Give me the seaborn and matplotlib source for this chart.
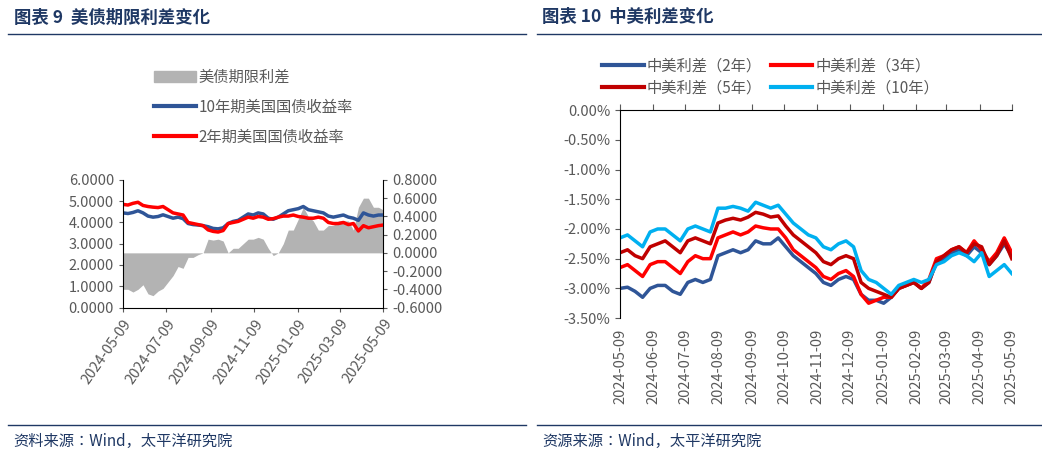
import numpy as np
import pandas as pd
import matplotlib
matplotlib.use("Agg")
import matplotlib.pyplot as plt
import matplotlib.ticker as mticker
import matplotlib.dates as mdates
from matplotlib import font_manager
from matplotlib.lines import Line2D
from matplotlib.patches import Patch
import seaborn as sb

# pick whatever CJK family is actually registered
cjk = [f.name for f in font_manager.fontManager.ttflist if "CJK" in f.name]
cjk = sorted(set(cjk), key=lambda n: ("SC" not in n, n))
plt.rcParams["font.family"] = cjk[:1] + ["DejaVu Sans"]
plt.rcParams["axes.unicode_minus"] = False

# left panel: US treasury yields (weekly, 2024-05-09 .. 2025-05-09)
us10y = [4.45, 4.42, 4.47, 4.55, 4.45, 4.30, 4.25, 4.28, 4.36, 4.28, 4.20, 4.25, 4.18,
         3.95, 3.90, 3.88, 3.85, 3.80, 3.72, 3.70, 3.75, 3.95, 4.05, 4.10, 4.25, 4.40,
         4.35, 4.45, 4.40, 4.20, 4.15, 4.25, 4.40, 4.55, 4.60, 4.65, 4.75, 4.60, 4.55,
         4.50, 4.45, 4.30, 4.25, 4.30, 4.35, 4.25, 4.20, 4.10, 4.45, 4.35, 4.30, 4.35, 4.35]
us2y = [4.85, 4.82, 4.90, 4.95, 4.80, 4.75, 4.72, 4.70, 4.75, 4.60, 4.45, 4.40, 4.35,
        4.00, 3.95, 3.90, 3.85, 3.65, 3.58, 3.55, 3.62, 3.95, 4.00, 4.05, 4.15, 4.25,
        4.20, 4.28, 4.25, 4.15, 4.18, 4.25, 4.30, 4.30, 4.35, 4.28, 4.25, 4.20, 4.20,
        4.25, 4.20, 4.00, 3.95, 3.95, 4.00, 3.90, 3.95, 3.60, 3.85, 3.75, 3.80, 3.85, 3.88]

# right panel: China-US yield spreads (%)
cn_us_2y = [-3.00, -2.98, -3.05, -3.15, -3.00, -2.95, -2.95, -3.05, -3.10, -2.90, -2.85, -2.90,
            -2.85, -2.45, -2.40, -2.35, -2.40, -2.35, -2.20, -2.25, -2.25, -2.15, -2.30, -2.45,
            -2.55, -2.65, -2.75, -2.90, -2.95, -2.85, -2.80, -2.85, -3.10, -3.20, -3.20, -3.25,
            -3.15, -3.00, -2.95, -2.90, -3.00, -2.90, -2.55, -2.50, -2.40, -2.35, -2.45, -2.30,
            -2.40, -2.60, -2.45, -2.25, -2.45]
cn_us_3y = [-2.65, -2.60, -2.70, -2.80, -2.60, -2.55, -2.55, -2.65, -2.75, -2.55, -2.45, -2.50,
            -2.50, -2.15, -2.10, -2.05, -2.10, -2.05, -1.95, -1.98, -2.00, -2.00, -2.15, -2.35,
            -2.45, -2.55, -2.65, -2.80, -2.85, -2.75, -2.70, -2.80, -3.10, -3.25, -3.20, -3.15,
            -3.15, -3.00, -2.95, -2.90, -3.00, -2.85, -2.50, -2.45, -2.35, -2.30, -2.40, -2.20,
            -2.35, -2.55, -2.40, -2.15, -2.40]
cn_us_5y = [-2.40, -2.35, -2.45, -2.50, -2.30, -2.25, -2.20, -2.30, -2.40, -2.20, -2.15, -2.20,
            -2.25, -1.90, -1.85, -1.82, -1.85, -1.80, -1.72, -1.75, -1.80, -1.78, -1.95, -2.10,
            -2.20, -2.30, -2.40, -2.55, -2.60, -2.50, -2.45, -2.50, -2.90, -3.00, -3.05, -3.10,
            -3.15, -3.00, -2.95, -2.90, -3.00, -2.90, -2.55, -2.45, -2.35, -2.30, -2.40, -2.25,
            -2.30, -2.60, -2.45, -2.20, -2.50]
cn_us_10y = [-2.15, -2.10, -2.20, -2.30, -2.05, -2.00, -2.00, -2.10, -2.20, -2.00, -1.95, -2.00,
             -2.05, -1.65, -1.65, -1.62, -1.65, -1.70, -1.55, -1.60, -1.65, -1.60, -1.75, -1.90,
             -2.00, -2.10, -2.15, -2.30, -2.35, -2.25, -2.20, -2.30, -2.70, -2.85, -2.90, -3.00,
             -3.10, -2.95, -2.90, -2.85, -2.90, -2.85, -2.60, -2.55, -2.45, -2.40, -2.45, -2.55,
             -2.40, -2.80, -2.70, -2.60, -2.75]

left_ticks = pd.to_datetime(["2024-05-09", "2024-07-09", "2024-09-09", "2024-11-09",
                             "2025-01-09", "2025-03-09", "2025-05-09"])
right_ticks = pd.date_range("2024-05-01", "2025-05-01", freq="MS") + pd.Timedelta(days=8)

BLUE, RED, GRAY = "#2F5597", "#FF0000", "#B3B3B3"
DRED, LBLUE = "#C00000", "#00B0F0"
TXT = "#595959"
TITLE = "#1F3864"

fig = plt.figure(figsize=(10.42, 4.59), dpi=100)

# headers / footers
for x0, x1, title, src in [(0.008, 0.505, "图表 9  美债期限利差变化", "资料来源：Wind，太平洋研究院"),
                           (0.515, 1.0, "图表 10  中美利差变化", "资源来源：Wind，太平洋研究院")]:
    fig.text(x0 + 0.005, 0.962, title, color=TITLE, fontsize=12.5, fontweight="bold", va="center")
    fig.text(x0 + 0.005, 0.038, src, color=TITLE, fontsize=11, va="center")
    fig.add_artist(Line2D([x0, x1], [0.925, 0.925], color=TITLE, lw=1))
    fig.add_artist(Line2D([x0, x1], [0.075, 0.075], color=TITLE, lw=1))

# ---- left chart ----
dates_l = pd.date_range("2024-05-09", "2025-05-09", periods=len(us10y))
df_l = pd.DataFrame({"date": dates_l, "y10": us10y, "y2": us2y})
df_l["spread"] = df_l["y10"] - df_l["y2"]

ax1 = fig.add_axes([0.118, 0.33, 0.25, 0.278])
ax2 = ax1.twinx()
ax2.fill_between(df_l["date"], 0, df_l["spread"], color=GRAY, lw=0)
sb.lineplot(data=df_l, x="date", y="y10", ax=ax1, color=BLUE, lw=2.5)
sb.lineplot(data=df_l, x="date", y="y2", ax=ax1, color=RED, lw=2.5)
ax1.set_zorder(2)
ax1.patch.set_visible(False)
ax1.set_ylim(0, 6)
ax2.set_ylim(-0.6, 0.8)
ax1.set_yticks(np.arange(0, 6.01, 1))
ax2.set_yticks(np.arange(-0.6, 0.81, 0.2))
ax1.yaxis.set_major_formatter(mticker.FormatStrFormatter("%.4f"))
ax2.yaxis.set_major_formatter(mticker.FormatStrFormatter("%.4f"))
ax1.set_xlim(dates_l[0], dates_l[-1])
ax1.set_xticks(left_ticks)
ax1.xaxis.set_major_formatter(mdates.DateFormatter("%Y-%m-%d"))
ax1.set_xlabel("")
ax1.set_ylabel("")
for a in (ax1, ax2):
    for s in a.spines.values():
        s.set_visible(False)
    a.tick_params(colors=TXT, labelsize=10.5, length=3)
ax1.spines["left"].set_visible(True)
ax1.spines["bottom"].set_visible(True)
ax2.spines["right"].set_visible(True)
plt.setp(ax1.get_xticklabels(), rotation=55, ha="right", rotation_mode="anchor")

handles = [Patch(color=GRAY), Line2D([], [], color=BLUE, lw=3), Line2D([], [], color=RED, lw=3)]
fig.legend(handles, ["美债期限利差", "10年期美国国债收益率", "2年期美国国债收益率"],
           loc="upper left", bbox_to_anchor=(0.135, 0.88), frameon=False, fontsize=11,
           labelcolor=TXT, handlelength=2.7, labelspacing=0.85, handletextpad=0.2)

# ---- right chart ----
dates_r = pd.date_range("2024-05-09", "2025-05-09", periods=len(cn_us_2y))
names = ["中美利差（2年）", "中美利差（3年）", "中美利差（5年）", "中美利差（10年）"]
df_r = pd.DataFrame({"date": dates_r, names[0]: cn_us_2y, names[1]: cn_us_3y,
                     names[2]: cn_us_5y, names[3]: cn_us_10y})
long_r = df_r.melt("date", var_name="series", value_name="v")
colors_r = [BLUE, RED, DRED, LBLUE]
ax3 = fig.add_axes([0.595, 0.307, 0.376, 0.453])
sb.lineplot(data=long_r, x="date", y="v", hue="series", ax=ax3, lw=2.5,
            palette=colors_r, legend=False)
ax3.set_ylim(-3.5, 0)
ax3.set_yticks(np.arange(-3.5, 0.01, 0.5))
ax3.yaxis.set_major_formatter(mticker.FuncFormatter(lambda v, p: f"{v:.2f}%"))
ax3.set_xlim(dates_r[0], dates_r[-1])
ax3.set_xticks(right_ticks)
ax3.xaxis.set_major_formatter(mdates.DateFormatter("%Y-%m-%d"))
ax3.tick_params(axis="x", labeltop=False, labelbottom=True, bottom=False, top=True, direction="out", length=4)
ax3.set_xlabel("")
ax3.set_ylabel("")
for s in ax3.spines.values():
    s.set_visible(False)
ax3.spines["left"].set_visible(True)
ax3.spines["top"].set_visible(True)
ax3.tick_params(colors=TXT, labelsize=10.5)
plt.setp(ax3.get_xticklabels(), rotation=90, ha="center")

order = [0, 2, 1, 3]  # legend fills column-wise; this gives rows 2y/3y, 5y/10y
rh = [Line2D([], [], color=colors_r[i], lw=3) for i in order]
fig.legend(rh, [names[i] for i in order], loc="upper left", ncol=2, bbox_to_anchor=(0.565, 0.905),
           frameon=False, fontsize=11, labelcolor=TXT, handlelength=2.7, columnspacing=0.6,
           labelspacing=0.35, handletextpad=0.2)

fig.savefig("out.png", dpi=100)
